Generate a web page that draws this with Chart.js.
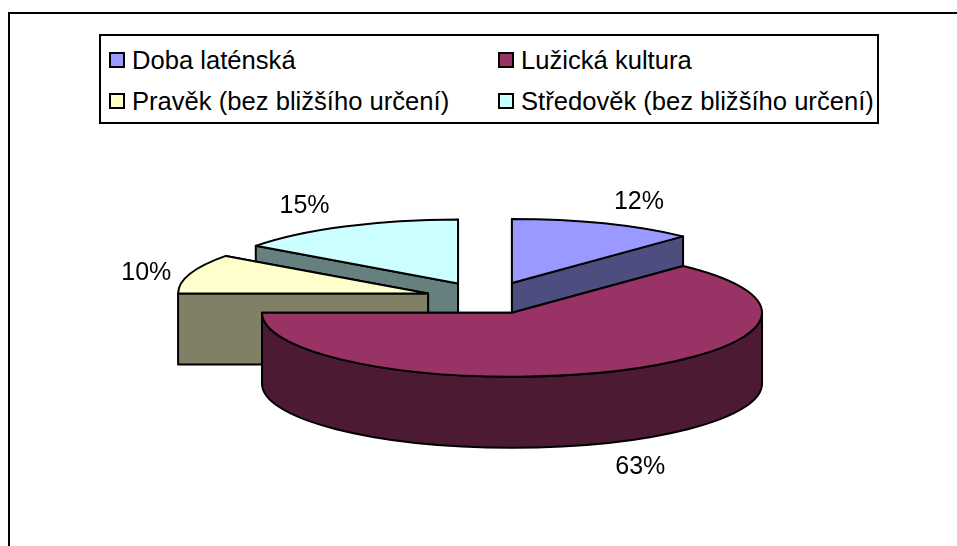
<!DOCTYPE html>
<html lang="cs">
<head>
<meta charset="utf-8">
<title>Koláčový graf</title>
<script src="https://cdn.jsdelivr.net/npm/chart.js@4/dist/chart.umd.min.js"></script>
<style>
html, body { margin: 0; padding: 0; background: #fff; }
body { width: 957px; height: 546px; position: relative; overflow: hidden; font-family: "Liberation Sans", Arial, sans-serif; }
#frame { position: absolute; left: 8px; top: 12px; right: 0; bottom: 0; border-left: 2px solid #000; border-top: 2px solid #000; }
canvas { position: absolute; left: 0; top: 0; }
#legend { position: absolute; left: 99px; top: 34px; width: 780px; height: 90px; box-sizing: border-box; border: 2px solid #000; background: #fff; }
.item { position: absolute; font-size: 25.6px; line-height: 30px; color: #000; white-space: nowrap; }
.item i { position: absolute; left: 0; top: 7px; width: 12px; height: 12px; border: 2px solid #000; }
.item span { position: absolute; left: 23px; top: 0; }
</style>
</head>
<body>
<div id="frame"></div>
<canvas id="pie" width="957" height="546"></canvas>
<div id="legend"></div>
<script>
const categories = ['Doba laténská', 'Lužická kultura', 'Pravěk (bez bližšího určení)', 'Středověk (bez bližšího určení)'];
const shares = [12, 63, 10, 15];
const topColors = ['#9999ff', '#993366', '#ffffcc', '#ccffff'];
const sideColors = ['#4d4d80', '#4d1a33', '#808066', '#668080'];

// look of the tilted pie
const squash = 0.256;
const depth = 71;
const paintOrder = [3, 0, 2, 1];
const explode = [65, 60.5, 63, 66];
const labelShift = [[35, -21], [29, 96], [-44, -1], [-40, -20]];

const pie3d = {
    id: 'pie3d',
    beforeDatasetsDraw(chart) {
        const ctx = chart.ctx;
        const arcs = chart.getDatasetMeta(0).data;
        ctx.lineWidth = 2;
        ctx.lineJoin = 'round';
        ctx.strokeStyle = '#000';
        paintOrder.forEach(i => {
            const arc = arcs[i];
            const mid = (arc.startAngle + arc.endAngle) / 2;
            const dx = Math.cos(mid) * explode[i];
            const dy = Math.sin(mid) * explode[i];
            const cx = arc.x + dx, cy = arc.y + dy * squash;
            const r = arc.outerRadius, ry = r * squash;

            // cut faces, the one further back goes first
            ctx.fillStyle = sideColors[i];
            [arc.startAngle, arc.endAngle].sort((p, q) => Math.sin(p) - Math.sin(q)).forEach(a => {
                const ex = cx + Math.cos(a) * r, ey = cy + Math.sin(a) * ry;
                ctx.beginPath();
                ctx.moveTo(cx, cy);
                ctx.lineTo(ex, ey);
                ctx.lineTo(ex, ey + depth);
                ctx.lineTo(cx, cy + depth);
                ctx.closePath();
                ctx.fill();
                ctx.stroke();
            });

            // outer rim, only the front half shows
            const a0 = Math.max(arc.startAngle, 0), a1 = Math.min(arc.endAngle, Math.PI);
            if (a1 > a0) {
                ctx.beginPath();
                ctx.ellipse(cx, cy, r, ry, 0, a0, a1);
                ctx.ellipse(cx, cy + depth, r, ry, 0, a1, a0, true);
                ctx.closePath();
                ctx.fill();
                ctx.stroke();
            }

            // top of the slice is the library's own arc, flattened
            ctx.save();
            ctx.translate(0, arc.y);
            ctx.scale(1, squash);
            ctx.translate(dx, dy - arc.y);
            arc.draw(ctx);
            ctx.restore();

            ctx.beginPath();
            ctx.moveTo(cx, cy);
            ctx.ellipse(cx, cy, r, ry, 0, arc.startAngle, arc.endAngle);
            ctx.closePath();
            ctx.stroke();
        });

        // percent labels
        const total = shares.reduce((a, b) => a + b, 0);
        ctx.font = '25px "Liberation Sans", Arial, sans-serif';
        ctx.fillStyle = '#000';
        ctx.textAlign = 'center';
        ctx.textBaseline = 'middle';
        arcs.forEach((arc, i) => {
            const mid = (arc.startAngle + arc.endAngle) / 2;
            const cx = arc.x + Math.cos(mid) * explode[i];
            const cy = arc.y + Math.sin(mid) * explode[i] * squash;
            const lx = cx + Math.cos(mid) * arc.outerRadius + labelShift[i][0];
            const ly = cy + Math.sin(mid) * arc.outerRadius * squash + labelShift[i][1];
            ctx.fillText(Math.round(shares[i] / total * 100) + '%', lx, ly);
        });
        return false;
    }
};

new Chart(document.getElementById('pie'), {
    type: 'pie',
    data: { labels: categories, datasets: [{ data: shares, backgroundColor: topColors, borderWidth: 0 }] },
    options: {
        responsive: false,
        animation: false,
        radius: 250,
        layout: { padding: { left: 19, top: 51, right: 0, bottom: 0 } },
        plugins: { legend: { display: false }, tooltip: { enabled: false } }
    },
    plugins: [pie3d]
});

// legend sits in a box, two columns
const legend = document.getElementById('legend');
categories.forEach((name, i) => {
    const el = document.createElement('div');
    el.className = 'item';
    el.style.left = (i % 2 ? 397 : 8) + 'px';
    el.style.top = (i < 2 ? 9 : 50) + 'px';
    el.innerHTML = `<i style="background:${topColors[i]}"></i><span>${name}</span>`;
    legend.appendChild(el);
});
</script>
</body>
</html>
